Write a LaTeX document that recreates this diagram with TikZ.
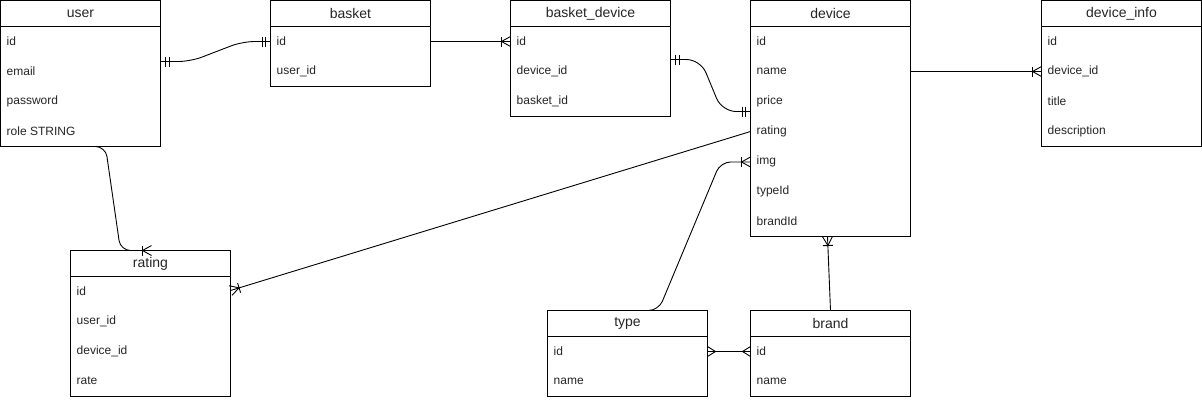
\documentclass[tikz,border=0pt]{standalone}
\usepackage{fontspec}
\setmainfont{Liberation Sans}
\usetikzlibrary{calc}
\tikzset{
  tbl/.style={draw=black, line width=1pt, fill=white, inner sep=0pt, outer sep=0pt, minimum width=160pt},
  tblline/.style={draw=black, line width=1pt},
  hdr/.style={inner sep=0pt, font=\fontsize{14pt}{16pt}\selectfont, text=black!85},
  rowtxt/.style={inner sep=0pt, anchor=west, font=\fontsize{12pt}{14pt}\selectfont, text=black!85},
  conn/.style={draw=black, line width=0.9pt},
  curved/.style={conn, rounded corners=12pt}
}
\newcommand\ertable[5]{%
  \pgfmathsetmacro\tblh{26+30*#3}%
  \node[tbl, minimum height=\tblh pt, anchor=north west] (#1) at #2 {};
  \draw[tblline] ([yshift=-26pt]#1.north west) -- ([yshift=-26pt]#1.north east);
  \node[hdr] (#1-title) at ([yshift=-13pt]#1.north) {#4};
  \foreach \r [count=\i] in {#5} {
    \node[rowtxt] (#1-\i) at ([xshift=6pt, yshift={-10.5pt-30pt*\i}]#1.north west) {\r};
  }
}
% markers: #1 end point, #2 point back along the line
\newcommand\mkcrow[3]{% crow's foot, apex #3 back
  \coordinate (mkA) at ($(#1)!#3!(#2)$);
  \draw[conn] ($(#1)!5pt!90:(#2)$) -- (mkA) -- ($(#1)!5pt!-90:(#2)$);
}
\newcommand\mkbar[3]{% bar at distance #3
  \coordinate (mkB) at ($(#1)!#3!(#2)$);
  \draw[conn] ($(mkB)!5pt!90:(#1)$) -- ($(mkB)!5pt!-90:(#1)$);
}
\newcommand\onemany[2]{\mkcrow{#1}{#2}{9pt}\mkbar{#1}{#2}{9pt}}
\newcommand\mandone[2]{\mkbar{#1}{#2}{5pt}\mkbar{#1}{#2}{8.5pt}}
\newcommand\many[2]{\mkcrow{#1}{#2}{8pt}}
\begin{document}
\begin{tikzpicture}[x=1pt, y=-1pt]
\useasboundingbox (-0.5,-0.5) rectangle (1201.5,399.5);

\ertable{user}{(0,0)}{4}{user}{id,email,password,role STRING}
\ertable{basket}{(270,0)}{2}{basket}{id,user\_id}
\ertable{bd}{(510,0)}{3}{basket\_device}{id,device\_id,basket\_id}
\ertable{device}{(750,0)}{7}{device}{id,name,price,rating,img,typeId,brandId}
\ertable{info}{(1041,0)}{4}{device\_info}{id,device\_id,title,description}
\ertable{rating}{(70,250)}{4}{rating}{id,user\_id,device\_id,rate}
\ertable{type}{(547,310)}{2}{type}{id,name}
\ertable{brand}{(750,310)}{2}{brand}{id,name}

% connector end points
\coordinate (uR) at ([yshift=-61pt]user.north east);
\coordinate (bL) at ([yshift=-41pt]basket.north west);
\coordinate (bR) at ([yshift=-41pt]basket.north east);
\coordinate (bdL) at ([yshift=-41pt]bd.north west);
\coordinate (bdR) at ([yshift=-59pt]bd.north east);
\coordinate (dPrice) at ([yshift=-111pt]device.north west);
\coordinate (dRating) at ([yshift=-131pt]device.north west);
\coordinate (dImg) at ([yshift=-161.5pt]device.north west);
\coordinate (dR) at ([yshift=-71pt]device.north east);
\coordinate (dB) at ([xshift=-3pt]device.south);
\coordinate (iL) at ([yshift=-71pt]info.north west);
\coordinate (uB) at ([xshift=15pt]user.south);
\coordinate (rT) at ([xshift=1pt]rating.north);
\coordinate (rR) at ([yshift=-40pt]rating.north east);
\coordinate (tT) at ([xshift=20pt]type.north);
\coordinate (tR) at ([yshift=-41pt]type.north east);
\coordinate (brL) at ([yshift=-41pt]brand.north west);
\coordinate (brT) at ([xshift=0pt]brand.north);

% 1 user - basket
\draw[curved] (uR) -- ++(30,0) coordinate (c1a) -- ($(bL)+(-28,0)$) coordinate (c1b) -- (bL);
\mandone{uR}{c1a}\mandone{bL}{c1b}
% 2 basket - basket_device
\draw[conn] (bR) -- (bdL);
\onemany{bdL}{bR}
% 3 basket_device - device
\draw[curved, rounded corners=14pt] (bdR) -- ++(30,0) coordinate (c3a) -- ($(dPrice)+(-28.5,0)$) coordinate (c3b) -- (dPrice);
\mandone{bdR}{c3a}\mandone{dPrice}{c3b}
% 4 device - device_info
\draw[conn] (dR) -- (iL);
\onemany{iL}{dR}
% 5 user - rating
\draw[curved, rounded corners=10pt] (uB) -- ($(uB)+(10,0)$) -- ($(rT)+(-31,0)$) coordinate (c5b) -- (rT);
\onemany{rT}{c5b}
% 6 device.rating - rating
\draw[conn] (dRating) -- (rR);
\onemany{rR}{dRating}
% 7 type - device.img
\draw[curved, rounded corners=10pt] (tT) -- ++(11,0) -- ($(dImg)+(-30,0)$) coordinate (c7b) -- (dImg);
\onemany{dImg}{c7b}
% 8 brand - device
\draw[conn] (brT) -- (dB);
\onemany{dB}{brT}
% 9 type - brand
\draw[conn] (tR) -- (brL);
\many{tR}{brL}\many{brL}{tR}
\end{tikzpicture}
\end{document}
